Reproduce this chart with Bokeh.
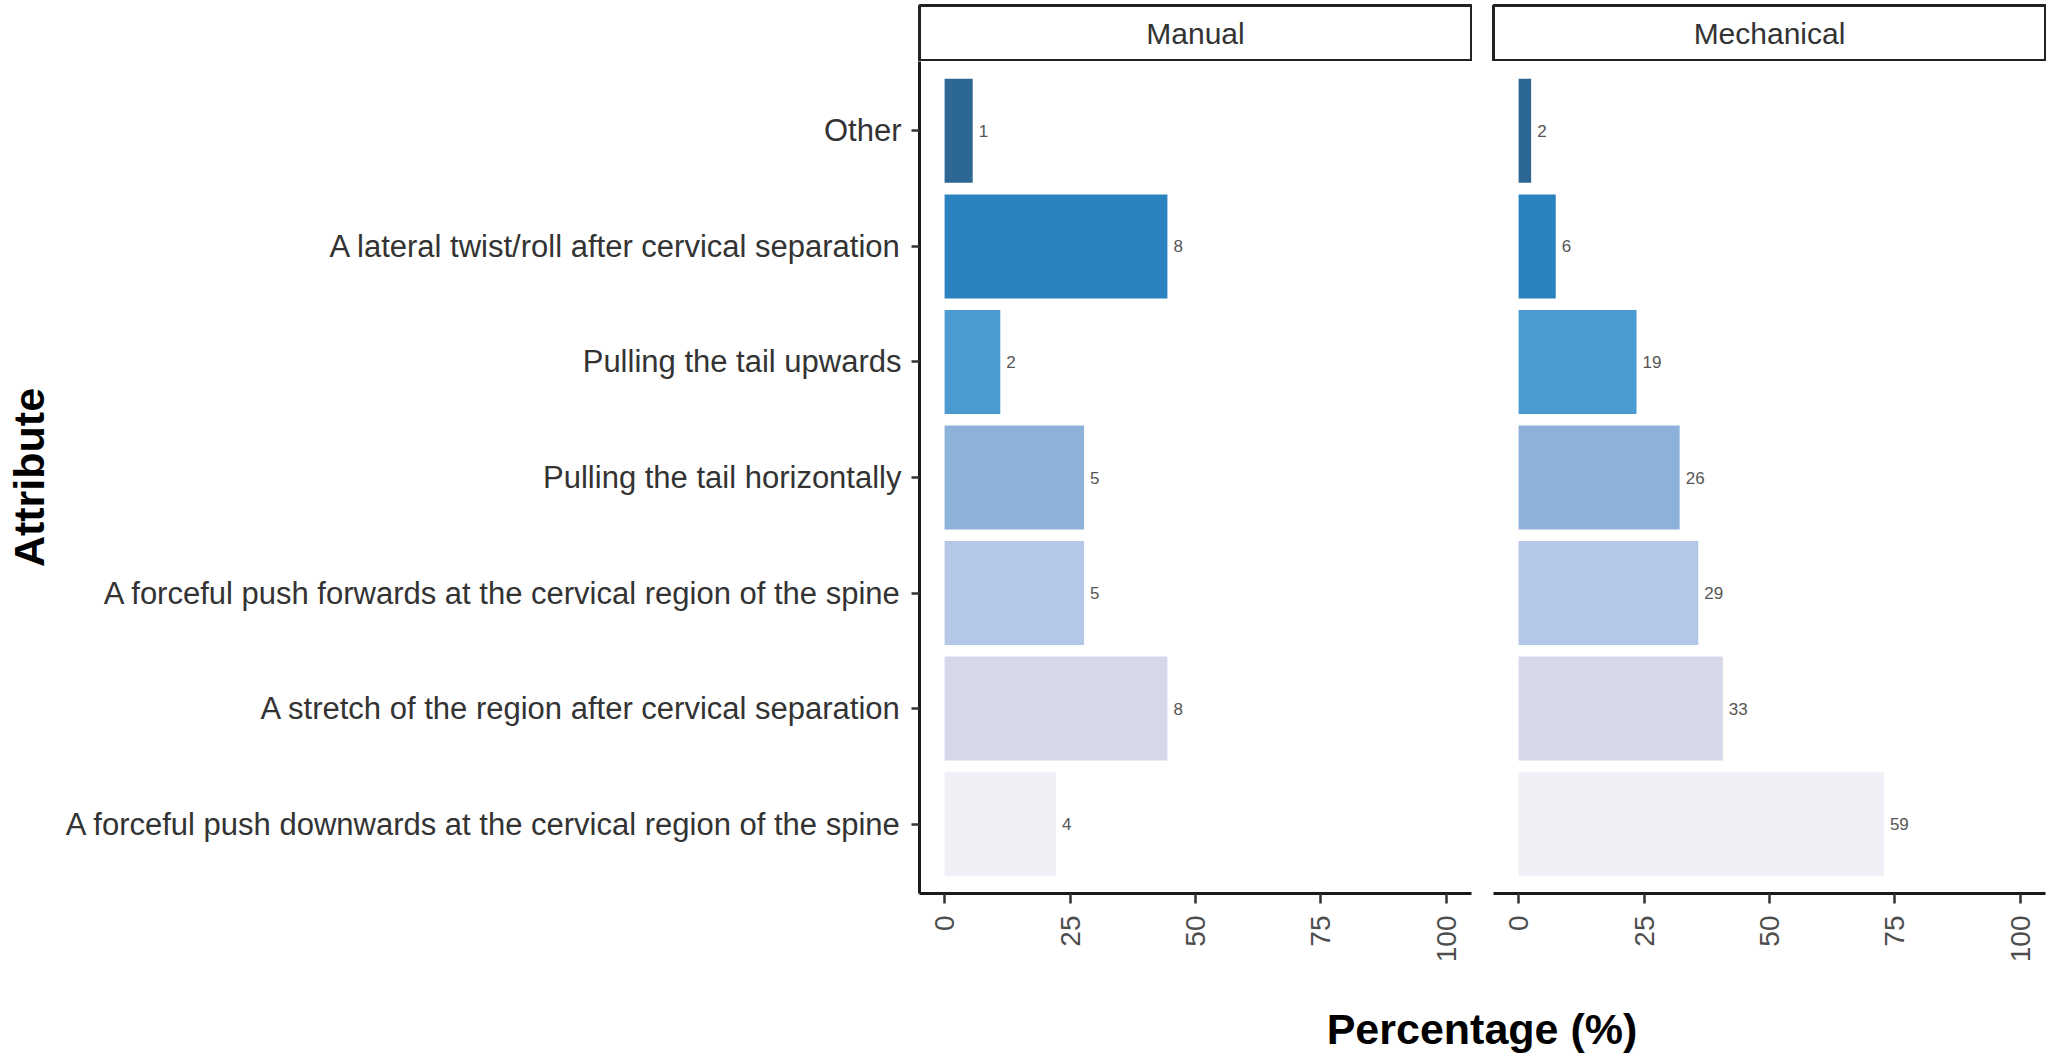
import math
from bokeh.plotting import figure
from bokeh.models import Range1d, FactorRange, FixedTicker, ColumnDataSource, Label
from bokeh.layouts import row, column
from bokeh.embed import file_html
from bokeh.resources import INLINE
from bokeh.core.properties import value

# ---------------- data ----------------
attributes = [
    "Other",
    "A lateral twist/roll after cervical separation",
    "Pulling the tail upwards",
    "Pulling the tail horizontally",
    "A forceful push forwards at the cervical region of the spine",
    "A stretch of the region after cervical separation",
    "A forceful push downwards at the cervical region of the spine",
]
panel_names = ["Manual", "Mechanical"]
manual_pct = [5.6, 44.4, 11.1, 27.8, 27.8, 44.4, 22.2]
manual_n = ["1", "8", "2", "5", "5", "8", "4"]
mechanical_pct = [2.5, 7.4, 23.5, 32.1, 35.8, 40.7, 72.8]
mechanical_n = ["2", "6", "19", "26", "29", "33", "59"]
bar_colors = ["#2D6895", "#2A82BE", "#4C9AD2", "#8DB2DA", "#B5C7E6", "#D6D9EA", "#F0EFF6"]
x_ticks = [0, 25, 50, 75, 100]
x_title = "Percentage (%)"
y_title = "Attribute"

# ---------------- layout constants ----------------
FONT = "Liberation Sans"
LEFT_B = 919
GAP = 21
FW = 552
FH = 832
STRIP_H = 56
BOTTOM_B = 100
TITLE_H = 64


def make_panel(pct, counts, first):
    src = ColumnDataSource(dict(cat=attributes, pct=pct, lab=counts, color=bar_colors))
    p = figure(
        y_range=FactorRange(factors=attributes[::-1], range_padding=0.1,
                            range_padding_units="absolute"),
        x_range=Range1d(-5, 105),
        frame_width=FW, frame_height=FH,
        output_backend="svg", toolbar_location=None,
        y_axis_location="left" if first else None,
        min_border_left=LEFT_B if first else GAP,
        min_border_right=1, min_border_top=0, min_border_bottom=BOTTOM_B,
    )
    p.hbar(y="cat", left=0, right="pct", height=0.9, fill_color="color",
           line_color=None, source=src)
    p.text(x="pct", y="cat", text="lab", x_offset=6, text_align="left",
           text_baseline="middle", text_font_size="17px", text_color="#555555",
           text_font=value(FONT), source=src)
    p.xgrid.grid_line_color = None
    p.ygrid.grid_line_color = None
    p.outline_line_color = None
    p.background_fill_color = "white"
    p.border_fill_color = "white"

    ax = p.xaxis[0]
    ax.ticker = FixedTicker(ticks=x_ticks)
    ax.major_label_orientation = math.pi / 2
    ax.major_label_text_font = FONT
    ax.major_label_text_font_size = "28px"
    ax.major_label_text_color = "#4d4d4d"
    ax.axis_line_color = "#1a1a1a"
    ax.axis_line_width = 3
    ax.major_tick_line_color = "#333333"
    ax.major_tick_line_width = 2.5
    ax.major_tick_out = 10
    ax.major_tick_in = 0
    ax.minor_tick_line_color = None
    ax.major_label_standoff = 12

    if first:
        ay = p.yaxis[0]
        ay.axis_label = y_title
        ay.axis_label_text_font = FONT
        ay.axis_label_text_font_style = "bold"
        ay.axis_label_text_font_size = "43px"
        ay.axis_label_text_color = "black"
        ay.axis_label_standoff = 10
        ay.major_label_text_font = FONT
        ay.major_label_text_font_size = "31px"
        ay.major_label_text_color = "#333333"
        ay.axis_line_color = "#1a1a1a"
        ay.axis_line_width = 3
        ay.major_tick_line_color = "#333333"
        ay.major_tick_line_width = 2.5
        ay.major_tick_out = 8
        ay.major_tick_in = 0
        ay.major_label_standoff = 10
    return p


def make_strip(name, first):
    s = figure(
        x_range=Range1d(0, 1), y_range=Range1d(0, 1),
        frame_width=FW, frame_height=STRIP_H,
        output_backend="svg", toolbar_location=None,
        x_axis_location=None, y_axis_location=None,
        min_border_left=LEFT_B if first else GAP,
        min_border_right=1, min_border_top=5, min_border_bottom=0,
    )
    s.xgrid.grid_line_color = None
    s.ygrid.grid_line_color = None
    s.outline_line_color = "#222222"
    s.outline_line_width = 3
    s.add_layout(Label(x=0.5, y=0.5, text=name, text_align="center",
                       text_baseline="middle", text_font=FONT,
                       text_font_size="30px", text_color="#333333"))
    return s


s1 = make_strip(panel_names[0], True)
s2 = make_strip(panel_names[1], False)
p1 = make_panel(manual_pct, manual_n, True)
p2 = make_panel(mechanical_pct, mechanical_n, False)

t = figure(
    x_range=Range1d(0, 1), y_range=Range1d(0, 1),
    frame_width=2 * FW + GAP, frame_height=TITLE_H,
    output_backend="svg", toolbar_location=None,
    x_axis_location=None, y_axis_location=None,
    min_border_left=LEFT_B, min_border_right=1, min_border_top=0, min_border_bottom=0,
)
t.xgrid.grid_line_color = None
t.ygrid.grid_line_color = None
t.outline_line_color = None
t.add_layout(Label(x=0.5, y=0.45, text=x_title, text_align="center",
                   text_baseline="middle", text_font=FONT, text_font_style="bold",
                   text_font_size="43px", text_color="black"))

layout = column(row(s1, s2), row(p1, p2), t)

open("out.html", "w").write(file_html(layout, INLINE))
